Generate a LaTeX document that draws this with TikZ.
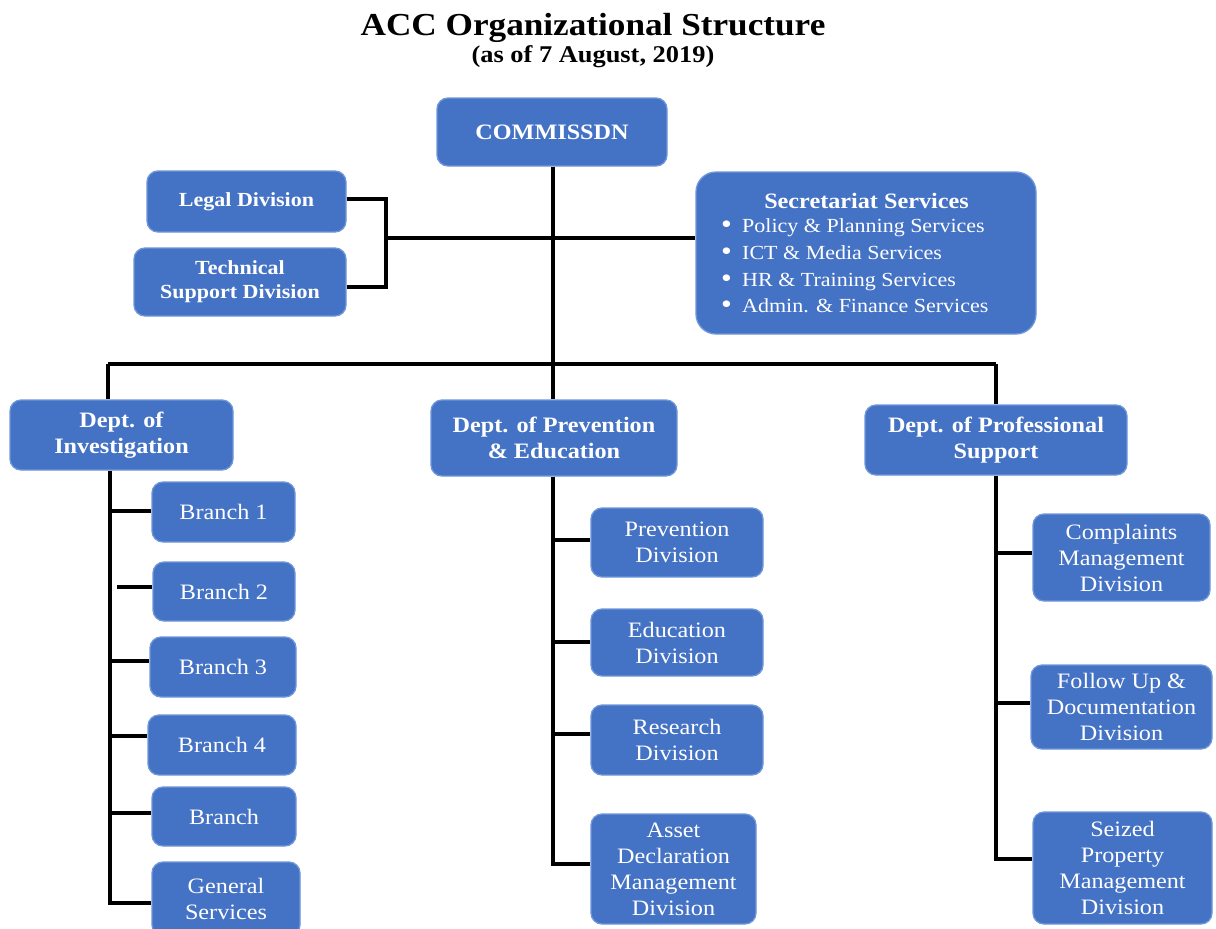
\documentclass[tikz,border=0pt]{standalone}
\usepackage{fontspec}
\setmainfont[FakeStretch=1.1]{Liberation Serif}
\definecolor{accblue}{HTML}{4472C4}
\definecolor{accedge}{HTML}{6F97DA}
\tikzset{
  box/.style={draw=accedge, fill=accblue, line width=1.3pt, rounded corners=11pt,
    text=white, align=center, inner sep=0pt},
  sz/.style 2 args={minimum width=#1pt, minimum height=#2pt},
  bftext/.style={font=\fontsize{22}{26}\selectfont\bfseries},
  rmtext/.style={font=\fontsize{22}{26}\selectfont},
  smbf/.style={font=\fontsize{20}{24}\selectfont\bfseries},
  conn/.style={draw=black, line width=4.8pt, line join=miter},
}
\newcommand{\accbul}{\makebox[21pt][l]{\smash{\raisebox{-1pt}{\fontsize{28}{20}\selectfont\textbullet}}}}
\begin{document}
\begin{tikzpicture}[x=1pt,y=-1pt]
\fill[white] (0,0) rectangle (1216,929);
\useasboundingbox (0,0) rectangle (1216,929);

% title
\node[anchor=base, font=\fontsize{32}{36}\selectfont\bfseries] (title) at (593,35) {ACC Organizational Structure};
\node[anchor=base, font=\fontsize{24}{28}\selectfont\bfseries] (subtitle) at (593,62) {(as of 7 August, 2019)};

% top level
\node[box, bftext, sz={230}{68}] (comm) at (552,132) {COMMISSDN};
\node[box, smbf, sz={199}{61}] (legal) at (246.5,201.5) {Legal Division};
\node[box, smbf, sz={212}{68}] (tech) at (240,282) {Technical\\Support Division};
\node[box, sz={340}{162}, rounded corners=20pt] (sec) at (866,253) {};
\node[bftext, text=white, inner sep=0pt] (secT) at (866.5,201) {Secretariat Services};
\node[anchor=west, align=left, text=white, inner sep=0pt,
      font=\fontsize{20}{26.7}\selectfont] (secL) at (721,266)
  {\accbul Policy \& Planning Services\\
   \accbul ICT \& Media Services\\
   \accbul HR \& Training Services\\
   \accbul Admin. \& Finance Services};

% departments
\node[box, bftext, sz={223}{70}] (inv) at (121.5,435) {Dept. of\\Investigation};
\node[box, bftext, sz={246}{76}] (pe) at (554,438) {Dept. of Prevention\\\& Education};
\node[box, bftext, sz={262}{70}] (ps) at (996,440) {Dept. of Professional\\Support};

% investigation branches
\node[box, rmtext, sz={143}{60}] (b1) at (223.5,512) {Branch 1};
\node[box, rmtext, sz={142}{59}] (b2) at (224,591.5) {Branch 2};
\node[box, rmtext, sz={146}{60}] (b3) at (223,667) {Branch 3};
\node[box, rmtext, sz={148}{60}] (b4) at (222,745) {Branch 4};
\node[box, rmtext, sz={144}{59}] (b5) at (224,816.5) {Branch};
\node[box, rmtext, sz={148}{74}] (gs) at (226,899) {General\\Services};

% prevention & education divisions
\node[box, rmtext, sz={172}{69}] (prev) at (677,542.5) {Prevention\\Division};
\node[box, rmtext, sz={172}{67}] (edu) at (677,642.5) {Education\\Division};
\node[box, rmtext, sz={172}{70}] (res) at (677,740) {Research\\Division};
\node[box, rmtext, sz={165}{110}] (asset) at (673.5,869) {Asset\\Declaration\\Management\\Division};

% professional support divisions
\node[box, rmtext, sz={177}{87}] (comp) at (1121.5,557.5) {Complaints\\Management\\Division};
\node[box, rmtext, sz={181}{84}] (fol) at (1121.5,707) {Follow Up \&\\Documentation\\Division};
\node[box, rmtext, sz={179}{112}] (seiz) at (1122.5,868) {Seized\\Property\\Management\\Division};

% junction coordinates
\coordinate (lj) at (386,199);
\coordinate (hj) at (386,238);
\coordinate (busL) at (108,364);
\coordinate (busM) at (553,364);
\coordinate (busR) at (996,364);
\coordinate (invEnd) at (110,905);
\coordinate (peEnd) at (553,866);
\coordinate (psEnd) at (996,861);

% connectors: top
\draw[conn] (comm.south -| busM) -- (pe.north -| busM);
\draw[conn] (legal.east |- lj) -- (lj) -- (lj |- 0,287) -- (tech.east |- 0,287);
\draw[conn] (hj) -- (sec.west |- hj);
\draw[conn] (busL) -- (busR);
\draw[conn] (busL) -- (inv.north -| busL);
\draw[conn] (busR) -- (ps.north -| busR);

% investigation spine
\draw[conn] (inv.south -| invEnd) -- (invEnd);
\draw[conn] (110,511) -- (b1.west |- 0,511);
\draw[conn] (117,587) -- (b2.west |- 0,587);
\draw[conn] (110,661) -- (b3.west |- 0,661);
\draw[conn] (110,736) -- (b4.west |- 0,736);
\draw[conn] (110,813) -- (b5.west |- 0,813);
\draw[conn] (110,903) -- (gs.west |- 0,903);

% prevention spine
\draw[conn] (pe.south -| peEnd) -- (peEnd);
\draw[conn] (553,540) -- (prev.west |- 0,540);
\draw[conn] (553,642) -- (edu.west |- 0,642);
\draw[conn] (553,734) -- (res.west |- 0,734);
\draw[conn] (553,864) -- (asset.west |- 0,864);

% professional support spine
\draw[conn] (ps.south -| psEnd) -- (psEnd);
\draw[conn] (996,553) -- (comp.west |- 0,553);
\draw[conn] (996,703) -- (fol.west |- 0,703);
\draw[conn] (996,859) -- (seiz.west |- 0,859);
\end{tikzpicture}
\end{document}
